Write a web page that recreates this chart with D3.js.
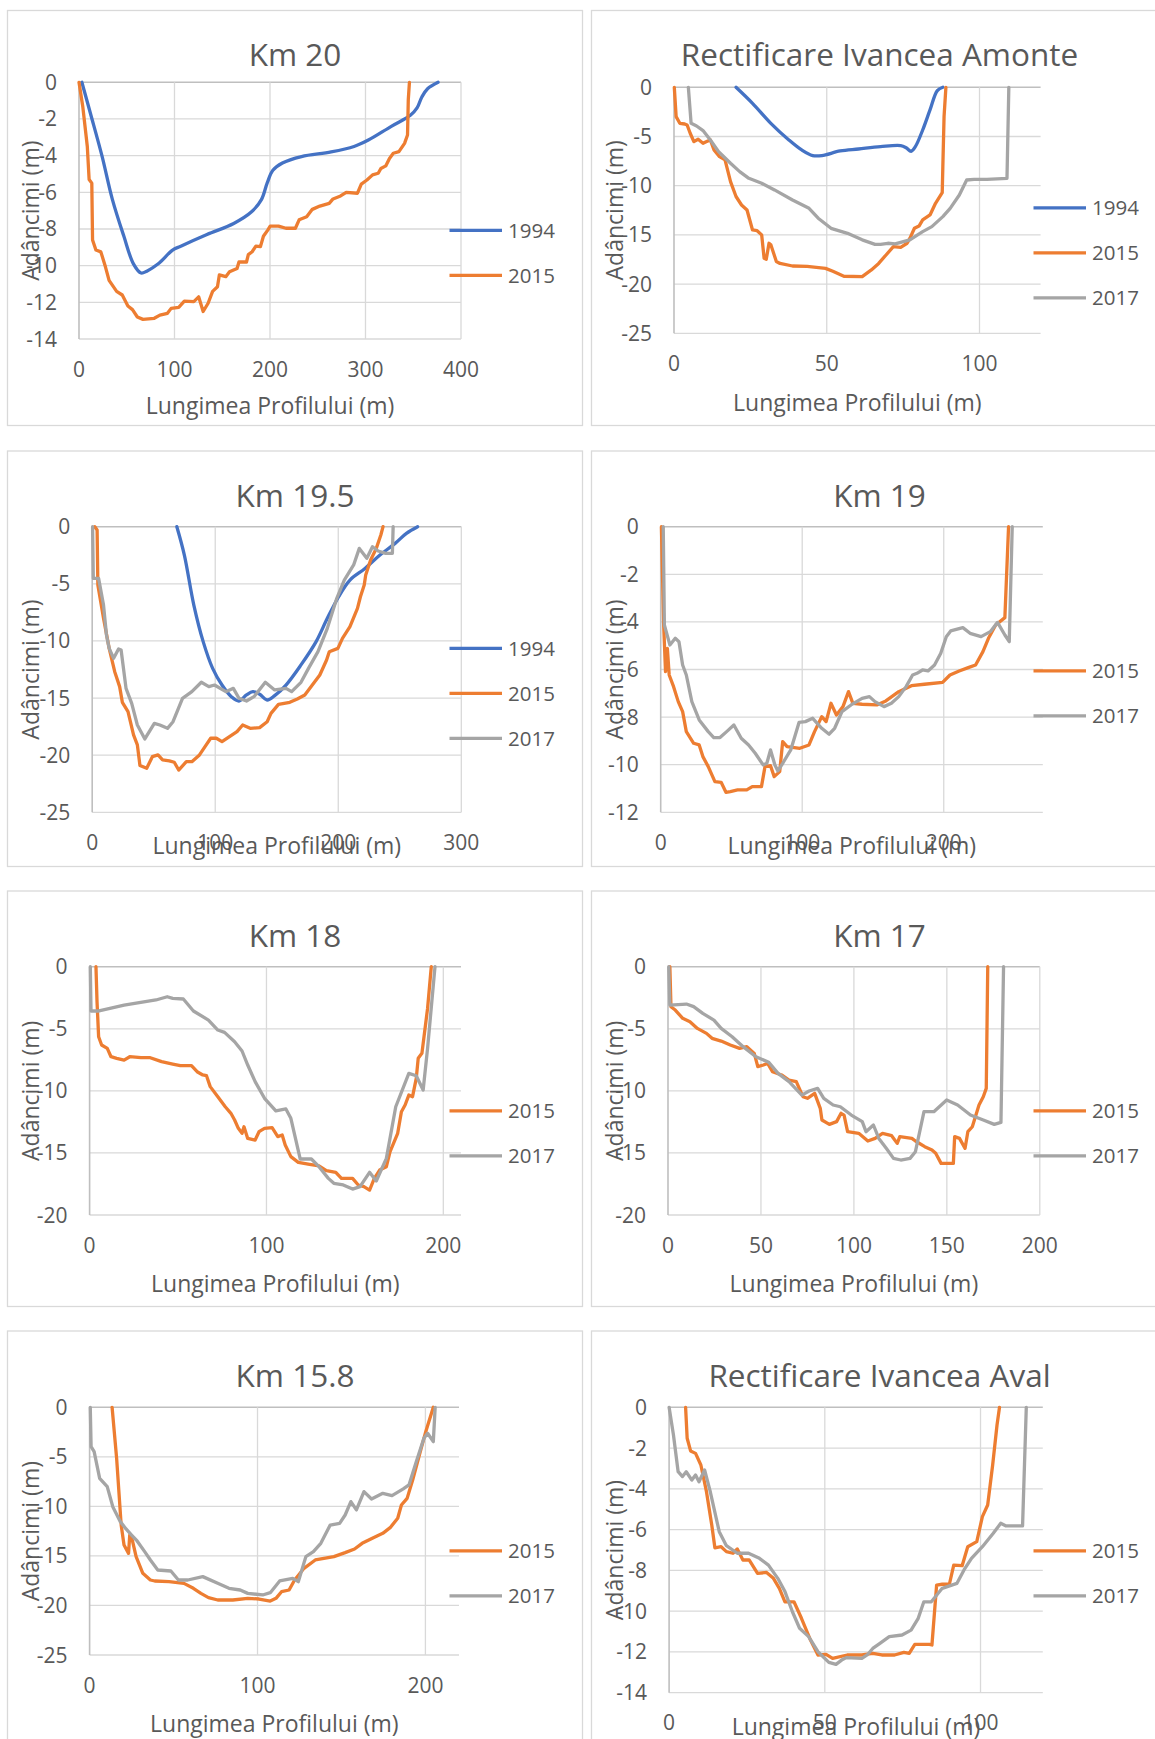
<!DOCTYPE html>
<html>
<head>
<meta charset="utf-8">
<script src="https://cdn.jsdelivr.net/npm/d3@7"></script>
<style>
  body { margin: 0; background: #fff; }
  svg { display: block; }
  text { font-family: "Open Sans", Lato, sans-serif; fill: #595959; }
</style>
</head>
<body>
<svg id="chart" width="1155" height="1739"></svg>
<script>
// ---- data: [distance (m), depth (m)] ----
const km20_1994 = [[3,0],[12,-1.7],[24,-4.0],[35,-6.4],[47,-8.4],[57,-9.9],[65,-10.4],[71,-10.3],[83,-9.9],[98,-9.15],[106,-8.95],[134,-8.3],[162,-7.7],[181,-7.05],[191,-6.4],[197,-5.5],[203,-4.8],[213,-4.4],[233,-4.05],[264,-3.8],[288,-3.5],[303,-3.15],[327,-2.4],[347,-1.8],[354,-1.4],[359,-0.8],[365,-0.35],[376,0]];
const km20_2015 = [[0,0],[3.9,-1.3],[8.7,-3.5],[10.6,-5.3],[13.4,-5.5],[14.2,-8.6],[17.7,-9.15],[22.9,-9.25],[27.6,-10.05],[31.5,-10.8],[39.4,-11.4],[45.3,-11.6],[51.2,-12.2],[56,-12.4],[61.1,-12.8],[67,-12.93],[78.8,-12.87],[84.7,-12.7],[92.6,-12.6],[96.5,-12.33],[104.4,-12.27],[110.3,-11.93],[120.2,-11.96],[125.3,-11.7],[130,-12.5],[135.2,-12.05],[139.9,-11.4],[145,-11.15],[147,-10.5],[153.7,-10.6],[157.6,-10.33],[165.5,-10.15],[167.5,-9.8],[175.4,-9.8],[177.3,-9.4],[181.3,-9.24],[185.2,-8.93],[190,-8.96],[193.1,-8.4],[197.8,-8.05],[200.2,-7.84],[208.9,-7.84],[216.7,-7.96],[226.6,-7.96],[230.5,-7.5],[238.4,-7.33],[244.3,-6.93],[252.2,-6.75],[262,-6.6],[266,-6.36],[273.9,-6.2],[279.8,-6.0],[291.6,-6.05],[295.6,-5.55],[301.5,-5.33],[307.4,-5.05],[313.3,-4.96],[316.1,-4.7],[321.2,-4.56],[325.1,-4.15],[329.1,-3.87],[335,-3.78],[340.9,-3.33],[344,-2.87],[344.8,-0.96],[346,0]];

const amonte_1994 = [[20.3,0],[25.7,-1.63],[31.7,-3.66],[37.6,-5.35],[41.8,-6.37],[45.4,-6.94],[48.4,-6.94],[54.4,-6.47],[60.4,-6.27],[67.6,-6.03],[74.2,-5.93],[76,-6.15],[77.6,-6.5],[79,-6.03],[81.4,-4.34],[83.8,-2.3],[86.2,-0.34],[88,0]];
const amonte_2015 = [[0.1,0],[0.7,-2.98],[1.9,-3.66],[3.5,-3.73],[4.3,-3.83],[5.3,-4.67],[6.5,-5.52],[7.9,-5.28],[9.5,-5.69],[10.7,-5.52],[11.9,-5.35],[13.1,-6.37],[14.9,-7.05],[16.7,-7.38],[18.5,-9.59],[20.3,-11.1],[22.1,-11.96],[23.9,-12.47],[25.7,-14.5],[27.2,-14.57],[28.7,-15.0],[29.5,-17.38],[30.2,-17.48],[31.1,-15.85],[31.7,-16.0],[33.5,-17.7],[34.7,-17.9],[38.8,-18.16],[43.6,-18.2],[49.6,-18.4],[52,-18.7],[55.6,-19.2],[61.6,-19.24],[64.6,-18.56],[67,-17.9],[69.4,-17.04],[71.8,-16.2],[74.2,-16.26],[76.3,-15.85],[77.2,-15.35],[78.7,-14.33],[80.2,-14.1],[81.4,-13.48],[83.8,-12.97],[85.6,-11.79],[87.8,-10.7],[88,-8.06],[88.4,-2.98],[89,0]];
const amonte_2017 = [[4.7,0],[5.6,-3.66],[7.4,-3.93],[9.5,-4.4],[11.9,-5.35],[14.6,-6.54],[18.5,-7.72],[21.5,-8.57],[24.5,-9.25],[28.7,-9.76],[32.9,-10.43],[38.8,-11.45],[44.2,-12.3],[47.2,-13.3],[51.4,-14.33],[56.8,-14.84],[61.6,-15.5],[65.8,-15.96],[67.6,-15.96],[70,-15.85],[72.4,-15.92],[77.2,-15.5],[81.4,-14.67],[84.4,-14.16],[88,-13.14],[90.4,-12.3],[93.4,-10.94],[95.8,-9.42],[98.2,-9.35],[102.4,-9.35],[109,-9.25],[109.6,0]];

const km195_1994 = [[68.8,0],[74.9,-2.48],[82.6,-6.86],[90.2,-10.06],[97.9,-12.4],[105.5,-13.86],[113.1,-14.88],[119.3,-15.26],[125.4,-14.73],[130.6,-14.44],[136.1,-14.67],[142.2,-15.17],[148.3,-14.79],[157.5,-13.86],[169.7,-12.1],[182,-10.06],[191.1,-8.02],[200.3,-6.13],[209.5,-4.67],[221.7,-3.65],[233.9,-2.48],[246.2,-1.46],[255.4,-0.58],[264.5,0]];
const km195_2015 = [[2.1,0],[4,-0.29],[4.6,-5.1],[9.2,-8.02],[13.8,-10.65],[18.3,-12.69],[22.3,-14],[24.5,-15.37],[29.1,-16.19],[33.6,-18.23],[36.7,-19.1],[38.8,-20.9],[44.3,-21.15],[48.9,-20.13],[53.5,-19.98],[57.2,-20.42],[62.7,-20.5],[66.7,-20.62],[70.3,-21.3],[76.5,-20.57],[81,-20.57],[87.2,-19.98],[91.7,-19.25],[96.3,-18.52],[100.9,-18.52],[105.5,-18.82],[111.6,-18.38],[117.7,-17.94],[122.3,-17.36],[128.4,-17.65],[136.1,-17.59],[142.2,-17.07],[145.3,-16.34],[151.4,-15.55],[160.6,-15.37],[166.7,-15.08],[172.8,-14.73],[178.9,-13.86],[185,-12.98],[190.5,-11.67],[192.7,-10.94],[199.7,-10.65],[203.4,-9.77],[209.5,-8.75],[215.6,-7.15],[218,-6.13],[221.1,-5.1],[222.3,-4.23],[226.3,-2.92],[230.9,-1.9],[234.6,-0.73],[236.4,0]];
const km195_2017 = [[0.3,0],[0.9,-4.52],[5.2,-4.52],[9.2,-6.86],[11.6,-9.48],[13.8,-10.65],[17.4,-11.52],[21.4,-10.7],[23.5,-10.8],[27.5,-14.15],[32.1,-15.46],[36.7,-17.36],[42.8,-18.58],[50.5,-17.21],[55,-17.36],[61.2,-17.65],[65.7,-17.07],[73.4,-15.02],[81,-14.44],[88.7,-13.62],[94.8,-14.0],[99.4,-13.86],[108.6,-14.44],[114.7,-14.15],[119.3,-15.02],[125.4,-15.26],[131.5,-14.88],[140.7,-13.62],[148.3,-14.29],[157.5,-14.15],[162.1,-14.44],[169.7,-13.62],[175.8,-12.4],[183.5,-10.94],[191.1,-8.9],[198.8,-6.27],[204.9,-4.67],[212.5,-3.35],[217.1,-1.9],[223.2,-2.77],[227.8,-1.75],[232.4,-2.13],[238.5,-2.33],[244,-2.33],[244.6,0]];

const km19_2015 = [[0.5,0],[2.1,-4.13],[3.4,-6.09],[4.7,-5.11],[6,-6.23],[9.1,-6.72],[12.4,-7.35],[15.5,-7.77],[18.1,-8.61],[23.3,-9.1],[27.2,-9.17],[29.8,-9.66],[33.6,-10.08],[38.3,-10.71],[42.7,-10.74],[46.1,-11.16],[49.2,-11.13],[54.3,-11.06],[60.8,-11.06],[64.7,-10.92],[71.2,-10.92],[73.7,-10.08],[77.6,-10.04],[80.2,-10.5],[84.1,-10.29],[86.2,-9.03],[89.3,-9.24],[98.3,-9.31],[104.8,-9.17],[108.7,-8.61],[113.8,-7.98],[116.9,-8.19],[120.3,-7.42],[124.2,-7.91],[128.8,-7.56],[132.7,-6.93],[135.8,-7.42],[142.3,-7.46],[152.7,-7.49],[159.1,-7.32],[168.2,-6.93],[177.2,-6.68],[186.3,-6.62],[199.2,-6.54],[204.4,-6.23],[210.9,-6.06],[217.3,-5.92],[222.5,-5.81],[227.7,-5.25],[231.6,-4.69],[236.7,-4.13],[243.2,-3.82],[245.8,0]];
const km19_2017 = [[1.8,0],[2.6,-4.13],[3.9,-4.41],[6.5,-4.97],[10.3,-4.69],[12.9,-4.83],[15.5,-5.81],[18.1,-6.23],[22,-7.35],[27.2,-8.12],[33.6,-8.61],[37.5,-8.86],[41.9,-8.86],[46.6,-8.61],[51.7,-8.33],[56.9,-8.89],[62.1,-9.17],[66.8,-9.52],[72.4,-10.01],[75,-9.94],[77.6,-9.38],[80.7,-10.01],[82.8,-10.26],[86.2,-9.94],[91.9,-9.38],[97.8,-8.22],[102.2,-8.19],[107.4,-8.05],[113.8,-8.47],[119,-8.72],[122.9,-8.47],[128.1,-7.77],[134.5,-7.49],[142.3,-7.21],[147.5,-7.14],[151.4,-7.35],[157.8,-7.56],[163,-7.42],[168.2,-7.14],[173.4,-6.72],[178,-6.23],[181.1,-6.16],[185,-6.02],[188.9,-6.06],[193.5,-5.81],[197.9,-5.32],[201.8,-4.62],[204.9,-4.38],[213.5,-4.24],[218.6,-4.48],[226.4,-4.62],[232.9,-4.41],[238,-4.02],[243.2,-4.55],[246.3,-4.83],[248.4,0]];

const km18_2015 = [[3.6,0],[4.2,-2.82],[5.1,-5.64],[6.8,-6.31],[10,-6.58],[12.1,-7.25],[15.3,-7.38],[19.5,-7.52],[22.7,-7.25],[29,-7.33],[34.3,-7.33],[40.7,-7.65],[47,-7.84],[51.3,-7.97],[57.6,-7.97],[60.8,-8.46],[64,-8.72],[66.1,-8.78],[68.2,-9.66],[72.5,-10.47],[76.7,-11.28],[79.9,-11.81],[82,-12.35],[84.1,-13.02],[86.2,-13.42],[87.3,-12.89],[89.4,-13.83],[93.6,-13.96],[95.8,-13.29],[98.9,-13.02],[103.2,-12.97],[106.4,-13.69],[108.9,-13.56],[110.6,-14.36],[113.8,-15.3],[118,-15.76],[124.4,-15.92],[129.7,-16.05],[133.9,-16.43],[139.2,-16.56],[142.4,-17.05],[148.7,-17.05],[151.9,-17.58],[155.1,-17.72],[158.3,-17.99],[161,-17.05],[164,-16.38],[167.8,-16.11],[169.9,-14.9],[174.2,-13.42],[176.3,-11.68],[178.4,-11.14],[180.5,-10.34],[182.6,-10.47],[184.7,-8.99],[185.8,-7.38],[187.9,-6.98],[191.1,-3.36],[193.2,0]];
const km18_2017 = [[0.4,0],[0.8,-3.57],[4.7,-3.57],[19.5,-3.09],[37.5,-2.68],[43.9,-2.42],[47,-2.55],[53,-2.6],[58.7,-3.57],[67.2,-4.3],[72.5,-5.1],[76.3,-5.29],[82,-6.04],[86.2,-6.79],[89.4,-7.92],[93.6,-9.26],[98.9,-10.6],[105.3,-11.62],[111,-11.46],[113.8,-12.21],[119.1,-15.49],[125.4,-15.49],[129.7,-16.11],[135,-17.05],[138.1,-17.45],[143.4,-17.58],[148.7,-17.91],[152.9,-17.72],[158.3,-16.56],[162.1,-17.26],[167.8,-15.44],[173.1,-11.28],[180.5,-8.59],[184.7,-8.78],[188.6,-9.93],[191.1,-6.58],[195.3,0]];

const km17_2015 = [[1,0],[1.6,-3.22],[3.9,-3.49],[7.9,-4.16],[11.8,-4.43],[15.8,-4.97],[20.7,-5.37],[23.7,-5.77],[28.6,-5.99],[33.5,-6.31],[38.5,-6.58],[42.4,-6.44],[46.4,-6.98],[48.3,-8.05],[51.3,-7.92],[53.6,-7.79],[56.2,-8.46],[61.1,-8.72],[65.1,-9.13],[69,-9.26],[72.6,-10.47],[75,-10.6],[78.9,-10.2],[81.9,-11.41],[82.8,-12.35],[86.8,-12.7],[90.7,-12.48],[93.1,-11.81],[94.7,-11.95],[96.6,-13.29],[102.6,-13.42],[107.5,-14.04],[111.4,-13.83],[115.4,-13.42],[120.3,-13.61],[123.3,-14.23],[124.7,-13.69],[131.2,-13.83],[133.1,-14.04],[138.1,-14.5],[142,-14.77],[144,-15.03],[146.9,-15.84],[153.5,-15.84],[154.2,-13.69],[156.8,-13.83],[159.8,-14.63],[161.3,-13.29],[163.7,-12.89],[167.3,-11.14],[169.6,-10.47],[171.2,-9.8],[172,0]];
const km17_2017 = [[0.4,0],[1,-3.09],[9.9,-3.01],[13.8,-3.22],[18.7,-3.76],[24.7,-4.3],[28.6,-4.97],[34.5,-5.64],[40.4,-6.44],[47.3,-7.25],[54.2,-7.7],[59.2,-8.59],[65.1,-9.26],[72,-10.34],[75.9,-10.01],[80.5,-9.8],[83.8,-10.6],[88.8,-11.14],[92.7,-11.28],[98.6,-11.95],[104.5,-12.48],[106.5,-13.29],[110.5,-12.75],[113.4,-13.83],[117.4,-14.63],[121.3,-15.44],[125.2,-15.57],[130.2,-15.44],[133.1,-14.9],[137.7,-11.68],[143,-11.68],[149.9,-10.74],[155.8,-11.14],[162.7,-11.95],[169.6,-12.35],[175.5,-12.7],[179.1,-12.54],[180.5,0]];

const km158_2015 = [[13.4,0],[16.1,-5.15],[18.8,-11.88],[20.5,-13.9],[23.2,-14.74],[23.9,-12.89],[25.4,-13.39],[27.7,-15.07],[31.7,-16.76],[36.2,-17.43],[38.8,-17.53],[47.3,-17.6],[56.2,-17.77],[61.8,-18.27],[66.3,-18.78],[70.8,-19.21],[76.3,-19.45],[85.3,-19.45],[94.2,-19.28],[100.9,-19.35],[107.6,-19.55],[111,-19.28],[114.3,-18.61],[118.8,-18.44],[122.1,-17.43],[127.7,-16.25],[134.4,-15.41],[145.5,-15.07],[152.2,-14.67],[157.8,-14.3],[162.3,-13.73],[169,-13.16],[174.6,-12.72],[179,-12.15],[183.5,-11.2],[185.7,-9.86],[189.1,-9.19],[192.4,-7.34],[196.4,-4.81],[200.2,-2.46],[204.7,0]];
const km158_2017 = [[0.4,0],[0.9,-3.97],[2.7,-4.48],[6,-7.17],[10.5,-8.01],[13.8,-10.03],[18.3,-11.54],[21.7,-12.28],[25,-12.89],[28.3,-13.49],[32.8,-14.57],[36.2,-15.41],[40.6,-16.42],[48.4,-16.52],[52.9,-17.43],[58.5,-17.43],[67.4,-17.09],[76.3,-17.77],[83,-18.27],[89.7,-18.44],[94.2,-18.78],[103.1,-18.94],[107.6,-18.71],[113.2,-17.53],[121,-17.26],[124.3,-17.6],[128.8,-15.07],[133.3,-14.57],[137.7,-13.73],[143.3,-11.88],[148.9,-11.71],[152.2,-10.87],[155.6,-9.52],[158.9,-10.36],[163.4,-8.51],[167.9,-9.25],[174.6,-8.68],[180.1,-8.92],[186.8,-8.24],[190.2,-7.84],[194.6,-5.48],[199.1,-3.13],[201.3,-2.62],[204.7,-3.47],[205.8,0]];

const aval_2015 = [[5.3,0],[5.8,-1.52],[6.9,-2.14],[8.5,-2.26],[10.2,-2.83],[12,-4.14],[13.7,-5.77],[14.7,-6.89],[16.7,-6.84],[18.4,-7.08],[20.5,-7.16],[21.9,-6.95],[23.7,-7.49],[25.7,-7.49],[28.4,-8.15],[31.3,-8.1],[33.5,-8.39],[35.4,-8.88],[37.2,-9.54],[40.1,-9.54],[42.5,-10.35],[45.4,-11.42],[47.8,-12.15],[50.4,-12.12],[52.5,-12.32],[57.2,-12.15],[61.9,-12.15],[65.4,-12.07],[68.3,-12.15],[72.4,-12.15],[75.4,-12.02],[77.1,-12.07],[78.9,-11.63],[83.6,-11.63],[84.4,-11.66],[85.9,-8.72],[87.7,-8.68],[90,-8.68],[91.4,-7.74],[94.1,-7.77],[95.9,-6.84],[98.8,-6.59],[100.6,-5.36],[102.3,-4.79],[103.9,-2.83],[105.3,-0.87],[106.1,0]];
const aval_2017 = [[0,0],[1.4,-1.36],[2.9,-3.16],[4.3,-3.4],[5.5,-3.16],[7.3,-3.57],[8.5,-3.32],[9.6,-3.65],[11.4,-3.07],[13.1,-4.06],[16.1,-6.1],[18.4,-6.79],[21.9,-7.16],[25.5,-7.16],[29,-7.41],[31.9,-7.74],[34.9,-8.39],[37.2,-9.04],[39.6,-10.03],[41.9,-10.84],[44.8,-11.25],[47.8,-11.99],[51.3,-12.51],[53.6,-12.61],[55.4,-12.4],[56.9,-12.28],[61.9,-12.32],[63.6,-12.15],[65.4,-11.83],[67.7,-11.58],[70.7,-11.25],[74.8,-11.17],[77.7,-10.93],[80,-10.35],[81.8,-9.54],[84.2,-9.54],[87.7,-8.88],[92.4,-8.64],[94.7,-7.98],[97.1,-7.41],[100.6,-6.84],[104.1,-6.18],[106.5,-5.69],[108.2,-5.82],[113.5,-5.82],[114.7,0]];

// ---- tick labels ----
const xTicks400 = [0, 100, 200, 300, 400];
const xTicks300 = [0, 100, 200, 300];
const xTicks200 = [0, 100, 200];
const xTicks50 = [0, 50, 100, 150, 200];
const xTicks120 = [0, 50, 100];
const yTicks14 = [0, -2, -4, -6, -8, -10, -12, -14];
const yTicks12 = [0, -2, -4, -6, -8, -10, -12];
const yTicks20 = [0, -5, -10, -15, -20];
const yTicks25 = [0, -5, -10, -15, -20, -25];

const colors = { '1994': '#4472C4', '2015': '#ED7D31', '2017': '#A5A5A5' };

const panels = [
  { title: 'Km 20', series: [['1994', km20_1994], ['2015', km20_2015]], xMax: 400, xTicks: xTicks400, yMin: -14, yTicks: yTicks14 },
  { title: 'Rectificare Ivancea Amonte', series: [['1994', amonte_1994], ['2015', amonte_2015], ['2017', amonte_2017]], xMax: 120, xTicks: xTicks120, yMin: -25, yTicks: yTicks25 },
  { title: 'Km 19.5', series: [['1994', km195_1994], ['2015', km195_2015], ['2017', km195_2017]], xMax: 300, xTicks: xTicks300, yMin: -25, yTicks: yTicks25 },
  { title: 'Km 19', series: [['2015', km19_2015], ['2017', km19_2017]], xMax: 270, xTicks: xTicks200, yMin: -12, yTicks: yTicks12 },
  { title: 'Km 18', series: [['2015', km18_2015], ['2017', km18_2017]], xMax: 210, xTicks: xTicks200, yMin: -20, yTicks: yTicks20 },
  { title: 'Km 17', series: [['2015', km17_2015], ['2017', km17_2017]], xMax: 200, xTicks: xTicks50, yMin: -20, yTicks: yTicks20 },
  { title: 'Km 15.8', series: [['2015', km158_2015], ['2017', km158_2017]], xMax: 220, xTicks: xTicks200, yMin: -25, yTicks: yTicks25 },
  { title: 'Rectificare Ivancea Aval', series: [['2015', aval_2015], ['2017', aval_2017]], xMax: 120, xTicks: xTicks120, yMin: -14, yTicks: yTicks14 }
];

// panel boxes and plot areas (page pixels)
const layout = [
  { box: [7.5, 10.5, 575, 415], plot: [79, 82.3, 461, 339], xTitleY: 414 },
  { box: [591.5, 10.5, 576, 415], plot: [674, 87.3, 1040.6, 333.3], xTitleY: 411 },
  { box: [7.5, 451, 575, 415.5], plot: [92.2, 526.7, 461.3, 812.3], xTitleY: 854 },
  { box: [591.5, 451, 576, 415.5], plot: [660.7, 526.7, 1042.8, 812.3], xTitleY: 854 },
  { box: [7.5, 891, 575, 415.5], plot: [89.6, 966.7, 461, 1215], xTitleY: 1292 },
  { box: [591.5, 891, 576, 415.5], plot: [668, 966.7, 1039.8, 1215], xTitleY: 1292 },
  { box: [7.5, 1331, 575, 430], plot: [89.6, 1407.3, 459, 1655], xTitleY: 1732 },
  { box: [591.5, 1331, 576, 430], plot: [669.1, 1407.3, 1042.8, 1692.7], xTitleY: 1735 }
];

const svg = d3.select('#chart');

panels.forEach((p, i) => {
  const L = layout[i];
  const [bx, by, bw, bh] = L.box;
  const [px0, py0, px1, py1] = L.plot;
  const g = svg.append('g');

  g.append('rect')
   .attr('x', bx).attr('y', by).attr('width', bw).attr('height', bh)
   .attr('fill', '#fff').attr('stroke', '#d9d9d9').attr('stroke-width', 1.3);

  const x = d3.scaleLinear().domain([0, p.xMax]).range([px0, px1]);
  const y = d3.scaleLinear().domain([p.yMin, 0]).range([py1, py0]);

  // gridlines
  g.selectAll('.hgrid')
   .data(p.yTicks)
   .enter()
   .append('line')
   .attr('x1', px0).attr('x2', px1)
   .attr('y1', (d) => y(d)).attr('y2', (d) => y(d))
   .attr('stroke', (d) => d === 0 ? '#bfbfbf' : '#d9d9d9')
   .attr('stroke-width', (d) => d === 0 ? 1.6 : 1.3);

  g.selectAll('.vgrid')
   .data(p.xTicks)
   .enter()
   .append('line')
   .attr('x1', (d) => x(d)).attr('x2', (d) => x(d))
   .attr('y1', py0).attr('y2', py1)
   .attr('stroke', (d) => d === 0 ? '#bfbfbf' : '#d9d9d9')
   .attr('stroke-width', (d) => d === 0 ? 1.6 : 1.3);

  // tick labels
  g.selectAll('.ylab')
   .data(p.yTicks)
   .enter()
   .append('text')
   .attr('x', px0 - 22)
   .attr('y', (d) => y(d) + 7.5)
   .attr('text-anchor', 'end')
   .attr('font-size', 21)
   .text((d) => d);

  g.selectAll('.xlab')
   .data(p.xTicks)
   .enter()
   .append('text')
   .attr('x', (d) => x(d))
   .attr('y', py1 + 37.5)
   .attr('text-anchor', 'middle')
   .attr('font-size', 21)
   .text((d) => d);

  // lines
  p.series.forEach(([name, pts]) => {
    const line = d3.line()
      .x((d) => x(d[0]))
      .y((d) => y(d[1]))
      .curve(name === '1994' ? d3.curveCatmullRom.alpha(0.5) : d3.curveLinear);
    g.append('path')
     .attr('d', line(pts))
     .attr('fill', 'none')
     .attr('stroke', colors[name])
     .attr('stroke-width', 3.3)
     .attr('stroke-linejoin', 'round')
     .attr('stroke-linecap', 'round');
  });

  // titles
  g.append('text')
   .attr('x', bx + bw / 2)
   .attr('y', by + 55.5)
   .attr('text-anchor', 'middle')
   .attr('font-size', 31.5)
   .text(p.title);

  g.append('text')
   .attr('x', (px0 + px1) / 2)
   .attr('y', L.xTitleY)
   .attr('text-anchor', 'middle')
   .attr('font-size', 23)
   .text('Lungimea Profilului (m)');

  g.append('text')
   .attr('transform', `translate(${bx + 31},${(py0 + py1) / 2}) rotate(-90)`)
   .attr('text-anchor', 'middle')
   .attr('font-size', 23)
   .text('Adâncimi (m)');

  // legend
  const lx = bx + 442;
  const cy = by + 242.3;
  const n = p.series.length;
  p.series.forEach(([name], k) => {
    const ly = cy + (k - (n - 1) / 2) * 45;
    g.append('line')
     .attr('x1', lx).attr('x2', lx + 52.5)
     .attr('y1', ly).attr('y2', ly)
     .attr('stroke', colors[name]).attr('stroke-width', 3.3);
    g.append('text')
     .attr('x', lx + 58.5)
     .attr('y', ly + 7.5)
     .attr('font-size', 20.5)
     .text(name);
  });
});
</script>
</body>
</html>
